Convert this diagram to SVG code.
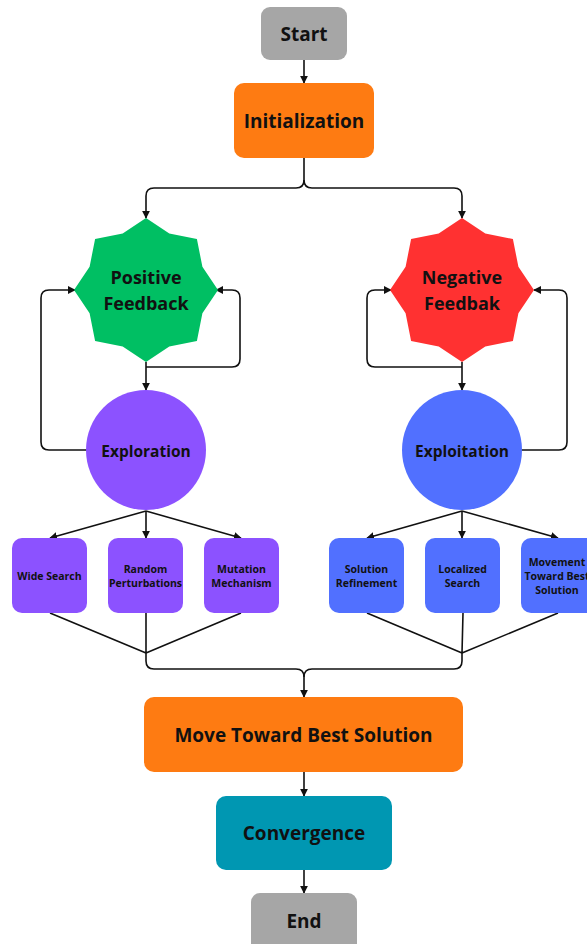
<svg xmlns="http://www.w3.org/2000/svg" width="587" height="944" viewBox="0 0 587 944">
  <style>
    .lbl { font-family: "Open Sans", "Liberation Sans", sans-serif; font-weight: 700; fill: #111; text-anchor: middle; dominant-baseline: central; }
    .big { font-size: 19px; }
    .mid { font-size: 18px; }
    .circ { font-size: 15.5px; }
    .small { font-size: 10.5px; }
    .wire { fill: none; stroke: #111; stroke-width: 1.6; }
    .arr { marker-end: url(#head); }
  </style>
  <defs>
    <marker id="head" viewBox="0 0 10 10" refX="9" refY="5" markerWidth="8" markerHeight="8" markerUnits="userSpaceOnUse" orient="auto">
      <path d="M0,0 L10,5 L0,10 Z" fill="#111"/>
    </marker>
    <polygon id="star8" points="0,-72 23.3,-56.4 50.9,-50.9 56.4,-23.3 72,0 56.4,23.3 50.9,50.9 23.3,56.4 0,72 -23.3,56.4 -50.9,50.9 -56.4,23.3 -72,0 -56.4,-23.3 -50.9,-50.9 -23.3,-56.4"/>
  </defs>

  <rect width="587" height="944" fill="#ffffff"/>

  <!-- connectors -->
  <g id="connectors">
    <path class="wire arr" d="M304,60 V83"/>
    <path class="wire arr" d="M304,158 V180 Q304,188 296,188 H154 Q146,188 146,196 V218"/>
    <path class="wire arr" d="M304,180 Q304,188 312,188 H454 Q462,188 462,196 V218"/>

    <path class="wire arr" d="M146,362 V390"/>
    <path class="wire arr" d="M146,367 H232 Q240,367 240,359 V298 Q240,290 232,290 H216"/>
    <path class="wire arr" d="M87,450 H49 Q41,450 41,442 V298 Q41,290 49,290 H75"/>

    <path class="wire arr" d="M462,362 V390"/>
    <path class="wire arr" d="M462,367 H375 Q367,367 367,359 V298 Q367,290 375,290 H391"/>
    <path class="wire arr" d="M521,450 H559 Q567,450 567,442 V298 Q567,290 559,290 H534"/>

    <path class="wire arr" d="M146,511 L50,538"/>
    <path class="wire arr" d="M146,511 V538"/>
    <path class="wire arr" d="M146,511 L241,538"/>
    <path class="wire arr" d="M462,511 L367,538"/>
    <path class="wire arr" d="M462,511 V538"/>
    <path class="wire arr" d="M462,511 L558,538"/>

    <path class="wire" d="M50,613 L146,653 M146,613 V653 M241,613 L146,653"/>
    <path class="wire" d="M367,613 L462,653 M463,613 L462,653 M558,613 L462,653"/>
    <path class="wire arr" d="M146,653 V661 Q146,669 154,669 H296 Q304,669 304,677 V697"/>
    <path class="wire" d="M462,653 V661 Q462,669 454,669 H312 Q304,669 304,677"/>

    <path class="wire arr" d="M304,772 V796"/>
    <path class="wire arr" d="M304,870 V893"/>
  </g>

  <g id="start">
    <rect x="261" y="7" width="86" height="53" rx="9" fill="#a6a6a6"/>
    <text class="lbl big" x="304" y="34">Start</text>
  </g>

  <g id="initialization">
    <rect x="234" y="83" width="140" height="75" rx="10" fill="#fe7b12"/>
    <text class="lbl big" x="304" y="121">Initialization</text>
  </g>

  <g id="positive-feedback">
    <use href="#star8" x="146" y="290" fill="#00bf63"/>
    <text class="lbl mid" x="146" y="277">Positive</text>
    <text class="lbl mid" x="146" y="303">Feedback</text>
  </g>

  <g id="negative-feedback">
    <use href="#star8" x="462" y="290" fill="#ff3131"/>
    <text class="lbl mid" x="462" y="277">Negative</text>
    <text class="lbl mid" x="462" y="303">Feedbak</text>
  </g>

  <g id="exploration">
    <circle cx="146" cy="450" r="60" fill="#8c52ff"/>
    <text class="lbl circ" x="146" y="451">Exploration</text>
  </g>

  <g id="exploitation">
    <circle cx="462" cy="450" r="60" fill="#5170ff"/>
    <text class="lbl circ" x="462" y="451">Exploitation</text>
  </g>

  <g id="wide-search">
    <rect x="12" y="538" width="75" height="75" rx="10" fill="#8c52ff"/>
    <text class="lbl small" x="49.5" y="576">Wide Search</text>
  </g>
  <g id="random-perturbations">
    <rect x="108" y="538" width="75" height="75" rx="10" fill="#8c52ff"/>
    <text class="lbl small" x="145.5" y="569">Random</text>
    <text class="lbl small" x="145.5" y="583">Perturbations</text>
  </g>
  <g id="mutation-mechanism">
    <rect x="204" y="538" width="75" height="75" rx="10" fill="#8c52ff"/>
    <text class="lbl small" x="241.5" y="569">Mutation</text>
    <text class="lbl small" x="241.5" y="583">Mechanism</text>
  </g>

  <g id="solution-refinement">
    <rect x="329" y="538" width="75" height="75" rx="10" fill="#5170ff"/>
    <text class="lbl small" x="366.5" y="569">Solution</text>
    <text class="lbl small" x="366.5" y="583">Refinement</text>
  </g>
  <g id="localized-search">
    <rect x="425" y="538" width="75" height="75" rx="10" fill="#5170ff"/>
    <text class="lbl small" x="462.5" y="569">Localized</text>
    <text class="lbl small" x="462.5" y="583">Search</text>
  </g>
  <g id="movement-toward-best">
    <rect x="521" y="538" width="75" height="75" rx="10" fill="#5170ff"/>
    <text class="lbl small" x="557" y="562">Movement</text>
    <text class="lbl small" x="557" y="576">Toward Best</text>
    <text class="lbl small" x="557" y="590">Solution</text>
  </g>

  <g id="move-toward-best-solution">
    <rect x="144" y="697" width="319" height="75" rx="10" fill="#fe7b12"/>
    <text class="lbl big" x="303.5" y="735">Move Toward Best Solution</text>
  </g>

  <g id="convergence">
    <rect x="216" y="796" width="176" height="74" rx="10" fill="#0097b2"/>
    <text class="lbl big" x="304" y="833">Convergence</text>
  </g>

  <g id="end">
    <rect x="251" y="893" width="106" height="60" rx="9" fill="#a6a6a6"/>
    <text class="lbl big" x="304" y="921">End</text>
  </g>
</svg>
